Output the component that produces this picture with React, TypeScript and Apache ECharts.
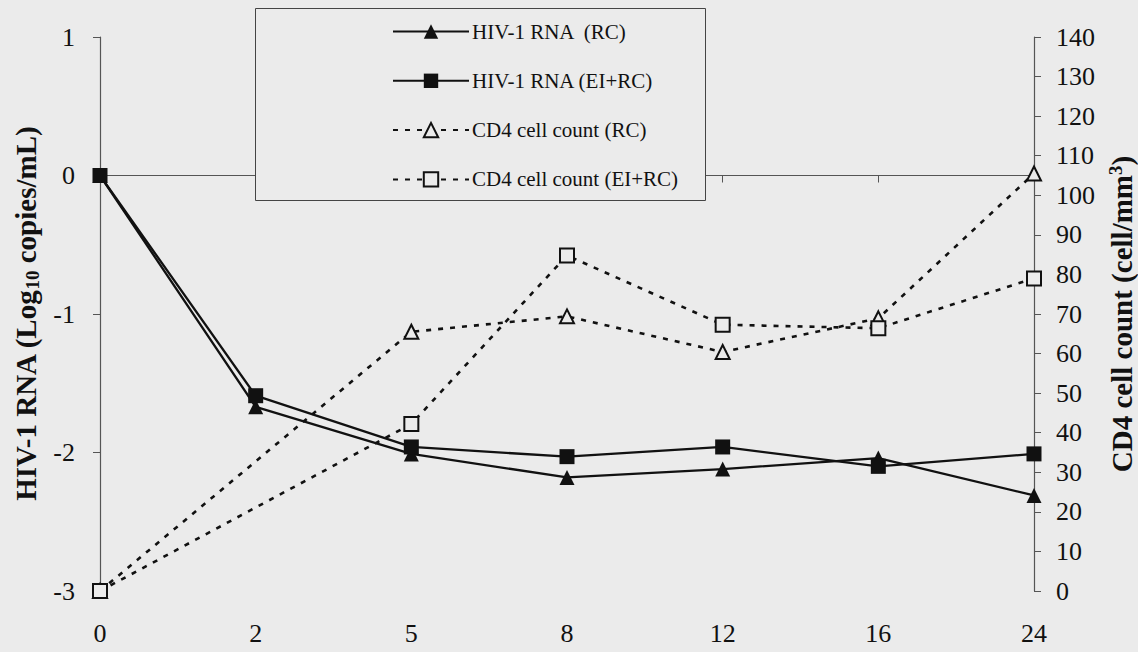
import React, { useEffect, useRef } from "react";
import * as echarts from "echarts";

const weeks = ["0", "2", "5", "8", "12", "16", "24"];
const rnaRC = [0, -1.67, -2.01, -2.18, -2.12, -2.04, -2.31];
const rnaEIRC = [0, -1.59, -1.96, -2.03, -1.96, -2.1, -2.01];
const cd4RC = [0, null, 65.5, 69.4, 60.4, 68.9, 105.5];
const cd4EIRC = [0, null, 42.2, 84.8, 67.3, 66.4, 79.0];

const seriesNames = [
  "HIV-1 RNA  (RC)",
  "HIV-1 RNA (EI+RC)",
  "CD4 cell count (RC)",
  "CD4 cell count (EI+RC)",
];

const BG = "#ebebeb";
const FONT = "Liberation Serif";
const INK = "#111";

export default function App() {
  const ref = useRef<HTMLDivElement>(null);
  useEffect(() => {
    if (!ref.current) return;
    const chart = echarts.init(ref.current, undefined, { renderer: "svg" });
    const solid = { color: INK, width: 2.3, type: "solid" as const };
    const dotted = { color: INK, width: 2.6, type: [5, 7] as any };
    chart.setOption({
      animation: false,
      backgroundColor: BG,
      textStyle: { fontFamily: FONT },
      grid: { left: 100, right: 104, top: 37, bottom: 61, containLabel: false, outerBoundsMode: "none" },
      graphic: [
        {
          type: "rect",
          left: 255,
          top: 8,
          shape: { width: 450, height: 192 },
          style: { fill: BG, stroke: "#444", lineWidth: 1 },
          z: 10,
        },
      ],
      legend: {
        left: 387,
        top: 16,
        orient: "vertical",
        itemWidth: 76,
        itemHeight: 18,
        itemGap: 28.3,
        z: 11,
        data: seriesNames,
        textStyle: { fontFamily: FONT, fontSize: 21, color: INK, lineHeight: 18, padding: [0, 0, 0, -2] },
      },
      xAxis: {
        type: "category",
        data: weeks,
        boundaryGap: false,
        axisLine: { lineStyle: { color: "#555", width: 1.2 } },
        axisTick: { show: true, length: 7, alignWithLabel: true, lineStyle: { color: "#555" } },
        axisLabel: { fontFamily: FONT, fontSize: 26, color: INK, margin: 29 },
      },
      yAxis: [
        {
          type: "value",
          min: -3,
          max: 1,
          interval: 1,
          position: "left",
          splitLine: { show: false },
          axisLine: { show: true, lineStyle: { color: "#555", width: 1.2 } },
          axisTick: { show: true, length: 7, lineStyle: { color: "#555" } },
          axisLabel: { fontFamily: FONT, fontSize: 26, color: INK, margin: 25 },
          name: "HIV-1 RNA (Log{sub|10} copies/mL)",
          nameLocation: "middle",
          nameGap: 56,
          nameRotate: 90,
          nameTextStyle: {
            fontFamily: FONT,
            fontSize: 29,
            fontWeight: "bold",
            color: INK,
            lineHeight: 32,
            rich: {
              sub: { fontFamily: FONT, fontSize: 19, fontWeight: "bold", color: INK, verticalAlign: "bottom", lineHeight: 13 },
            },
          },
        },
        {
          type: "value",
          min: 0,
          max: 140,
          interval: 10,
          position: "right",
          splitLine: { show: false },
          axisLine: { show: true, lineStyle: { color: "#555", width: 1.2 } },
          axisTick: { show: true, length: 7, lineStyle: { color: "#555" } },
          axisLabel: { fontFamily: FONT, fontSize: 26, color: INK, margin: 22 },
          name: "CD4 cell count (cell/mm{sup|3})",
          nameLocation: "middle",
          nameGap: 60,
          nameRotate: 90,
          nameTextStyle: {
            fontFamily: FONT,
            fontSize: 29,
            fontWeight: "bold",
            color: INK,
            lineHeight: 32,
            rich: {
              sup: { fontFamily: FONT, fontSize: 19, fontWeight: "bold", color: INK, verticalAlign: "top", lineHeight: 13 },
            },
          },
        },
      ],
      series: [
        {
          name: seriesNames[2],
          type: "line",
          yAxisIndex: 1,
          data: cd4RC,
          connectNulls: true,
          symbol: "triangle",
          symbolSize: 14,
          lineStyle: dotted,
          itemStyle: { color: BG, borderColor: INK, borderWidth: 2 },
          z: 2,
        },
        {
          name: seriesNames[3],
          type: "line",
          yAxisIndex: 1,
          data: cd4EIRC,
          connectNulls: true,
          symbol: "rect",
          symbolSize: 14,
          lineStyle: dotted,
          itemStyle: { color: BG, borderColor: INK, borderWidth: 2 },
          z: 3,
        },
        {
          name: seriesNames[0],
          type: "line",
          yAxisIndex: 0,
          data: rnaRC,
          symbol: "triangle",
          symbolSize: 15,
          lineStyle: solid,
          itemStyle: { color: INK },
          z: 4,
        },
        {
          name: seriesNames[1],
          type: "line",
          yAxisIndex: 0,
          data: rnaEIRC,
          symbol: "rect",
          symbolSize: 15,
          lineStyle: solid,
          itemStyle: { color: INK },
          z: 5,
        },
      ],
    });
    return () => chart.dispose();
  }, []);
  return (
    <div
      ref={ref}
      style={{ position: "fixed", left: 0, top: 0, width: 1138, height: 652 }}
    />
  );
}
